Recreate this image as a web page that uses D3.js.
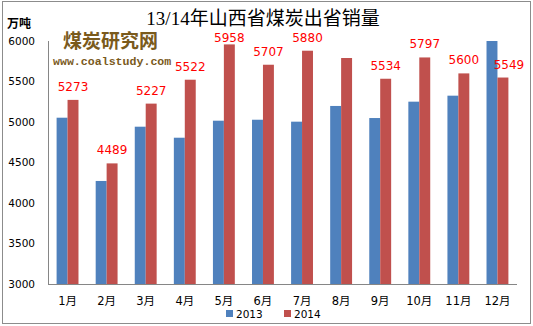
<!DOCTYPE html>
<html>
<head>
<meta charset="utf-8">
<script src="https://cdn.jsdelivr.net/npm/d3@7"></script>
<style>
  html, body { margin: 0; padding: 0; background: #fff; }
  svg { display: block; }
</style>
</head>
<body>
<svg id="chart" width="533" height="326"></svg>
<script>
// Monthly outbound coal sales of Shanxi province (10k tonnes)
const months = ["1月","2月","3月","4月","5月","6月","7月","8月","9月","10月","11月","12月"];
const series = ["2013", "2014"];
const sales2013 = [5053, 4272, 4942, 4806, 5016, 5028, 5004, 5198, 5049, 5251, 5325, 6000];
const sales2014 = [5273, 4489, 5227, 5522, 5958, 5707, 5880, 5790, 5534, 5797, 5600, 5549];
const unlabeledMonths = ["8月"];
const yTicks = [3000, 3500, 4000, 4500, 5000, 5500, 6000];
const colors = ["#4f81bd", "#c0504d"];

const svg = d3.select("#chart");
const W = 533, H = 326;
const plot = { left: 48, right: 517, top: 41, bottom: 284 };

// outer frame
svg.append("rect")
  .attr("x", 2.5).attr("y", 1.5)
  .attr("width", W - 5).attr("height", H - 4)
  .attr("fill", "#fff").attr("stroke", "#8c8c8c").attr("stroke-width", 1);

const x = d3.scaleBand().domain(months)
  .range([plot.left, plot.right])
  .paddingInner(0.44).paddingOuter(0.22);
const xSub = d3.scaleBand().domain(series).range([0, x.bandwidth()]);
const y = d3.scaleLinear().domain([3000, 6000]).range([plot.bottom, plot.top]);

// title
svg.append("text")
  .attr("x", 263).attr("y", 25)
  .attr("text-anchor", "middle")
  .attr("font-family", "'Liberation Serif', 'Noto Sans CJK SC', serif")
  .attr("font-size", 19)
  .attr("fill", "#000")
  .text("13/14年山西省煤炭出省销量");

// unit label
svg.append("text")
  .attr("x", 7).attr("y", 28)
  .attr("font-family", "'Noto Sans CJK SC', sans-serif")
  .attr("font-weight", "bold")
  .attr("font-size", 12)
  .attr("fill", "#000")
  .text("万吨");

// site watermark
svg.append("text")
  .attr("x", 63).attr("y", 48)
  .attr("font-family", "'Noto Sans CJK SC', sans-serif")
  .attr("font-weight", "bold")
  .attr("font-size", 19)
  .attr("fill", "#7a5a1c")
  .text("煤炭研究网");
svg.append("text")
  .attr("x", 53).attr("y", 65)
  .attr("font-family", "'Liberation Mono', 'DejaVu Sans Mono', monospace")
  .attr("font-weight", "bold")
  .attr("font-size", 11.6)
  .attr("fill", "#7a5a1c")
  .text("www.coalstudy.com");

// y axis tick labels
const yAxis = d3.axisLeft(y).tickValues(yTicks).tickFormat(d3.format("d"))
  .tickSize(0).tickPadding(13);
const gy = svg.append("g").attr("transform", `translate(${plot.left},0)`).call(yAxis);
gy.select(".domain").remove();
gy.selectAll("text")
  .attr("font-family", "'DejaVu Sans', Verdana, sans-serif")
  .attr("font-size", 10.5)
  .attr("fill", "#000");

// bars
const data = months.map((m, i) => ({ month: m, values: [sales2013[i], sales2014[i]] }));
const groups = svg.append("g").selectAll("g").data(data).join("g")
  .attr("transform", d => `translate(${x(d.month)},0)`);
groups.selectAll("rect")
  .data(d => d.values.map((v, k) => ({ key: series[k], value: v, k })))
  .join("rect")
  .attr("x", d => xSub(d.key))
  .attr("y", d => y(d.value))
  .attr("width", xSub.bandwidth())
  .attr("height", d => plot.bottom - y(d.value))
  .attr("fill", d => colors[d.k]);

// 2014 value labels
svg.append("g").selectAll("text")
  .data(data.filter(d => !unlabeledMonths.includes(d.month)))
  .join("text")
  .attr("x", d => x(d.month) + xSub("2014") + xSub.bandwidth() / 2 + (d.month === "12月" ? 6 : 0))
  .attr("y", d => Math.max(y(d.values[1]) - 9, 42))
  .attr("text-anchor", "middle")
  .attr("font-family", "'DejaVu Sans', Verdana, sans-serif")
  .attr("font-size", 12)
  .attr("fill", "#ff0000")
  .text(d => d.values[1]);

// axis lines
svg.append("line")
  .attr("x1", plot.left + 0.5).attr("x2", plot.left + 0.5)
  .attr("y1", plot.top).attr("y2", plot.bottom)
  .attr("stroke", "#868686");
svg.append("line")
  .attr("x1", plot.left).attr("x2", plot.right)
  .attr("y1", plot.bottom + 0.5).attr("y2", plot.bottom + 0.5)
  .attr("stroke", "#868686");

// x axis labels
const xAxis = d3.axisBottom(x).tickSize(0).tickPadding(13);
const gx = svg.append("g").attr("transform", `translate(0,${plot.bottom})`).call(xAxis);
gx.select(".domain").remove();
gx.selectAll("text")
  .attr("font-family", "'DejaVu Sans', 'Noto Sans CJK SC', sans-serif")
  .attr("font-size", 11.5)
  .attr("fill", "#000");

// legend
const legend = svg.append("g").attr("transform", "translate(226,310)");
const items = legend.selectAll("g").data(series).join("g")
  .attr("transform", (d, i) => `translate(${i * 58},0)`);
items.append("rect")
  .attr("width", 7).attr("height", 7)
  .attr("fill", (d, i) => colors[i]);
items.append("text")
  .attr("x", 10).attr("y", 8)
  .attr("font-family", "'DejaVu Sans', Verdana, sans-serif")
  .attr("font-size", 10.5)
  .attr("fill", "#000")
  .text(d => d);
</script>
</body>
</html>
